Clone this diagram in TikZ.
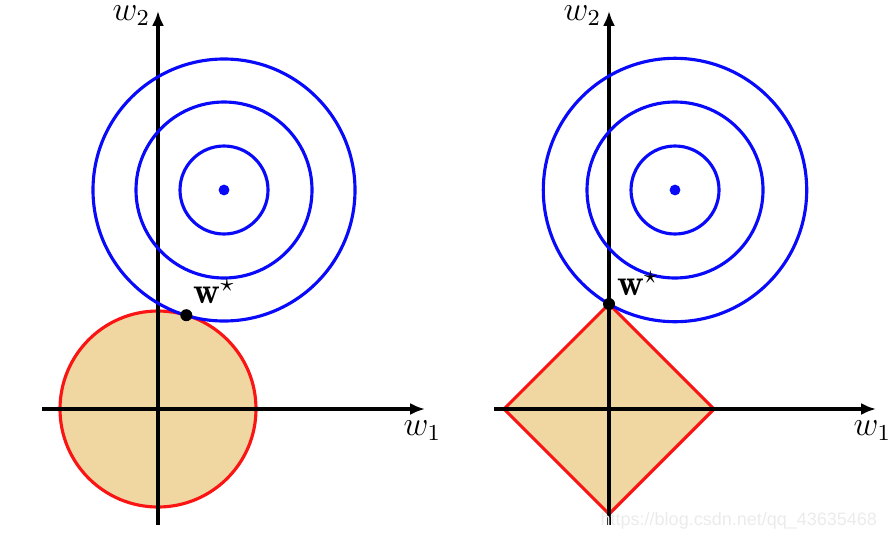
\documentclass[tikz,border=0pt]{standalone}
\usepackage{amsmath, amssymb, bm}
\usepackage{fontspec}
\newfontfamily\markfont{Liberation Sans}
\usetikzlibrary{arrows.meta, positioning}
\definecolor{ballfill}{RGB}{240, 214, 160}
\definecolor{levelblue}{RGB}{10, 10, 250}
\definecolor{ballred}{RGB}{250, 20, 20}

\begin{document}
\begin{tikzpicture}[x=0.35pt, y=-0.35pt,
    axis/.style={-{Latex[length=5.2pt, width=4.2pt]}, line width=1.1pt},
    level/.style={draw=levelblue, line width=1.1pt},
    ball/.style={draw=ballred, line width=1.1pt},
    axlabel/.style={anchor=base west, inner sep=0pt, font=\large},
    optlabel/.style={inner sep=0pt, font=\fontsize{13}{15}\selectfont},
    optdot/.style={circle, fill=black, inner sep=0pt, minimum size=4.2pt},
    ctrdot/.style={circle, fill=levelblue, inner sep=0pt, minimum size=3.8pt}]
    \useasboundingbox (0,0) rectangle (896,538);

    % left: l2 ball
    \coordinate (oL) at (158,409);
    \coordinate (cL) at (224,190);
    \fill[ballfill] (oL) circle (98);
    \draw[ball] (oL) circle (98);
    \coordinate (xaL0) at (42,409);
    \coordinate (xaL1) at (425,409);
    \coordinate (yaL0) at (158,525);
    \coordinate (yaL1) at (158,11);
    \draw[axis] (xaL0) -- (xaL1);
    \draw[axis] (yaL0) -- (yaL1);
    \node[axlabel] (w1L) at (403,435) {$w_1$};
    \node[axlabel] (w2L) at (112,20) {$w_2$};
    \foreach \r in {44, 88, 131}
        \draw[level] (cL) circle (\r);
    \node[ctrdot] (mL) at (cL) {};
    \node[optdot] (wL) at (186.3,315.2) {};
    \node[optlabel, above right=2.1pt and 0.7pt of wL] (wsL) {$\mathbf{w}^\star$};

    % right: l1 ball
    \coordinate (oR) at (609,409);
    \coordinate (cR) at (675,190);
    \node[coordinate] (dW) at (504,409) {};
    \node[coordinate] (dE) at (714,409) {};
    \node[coordinate] (dN) at (609,304) {};
    \node[coordinate] (dS) at (609,514) {};
    \fill[ballfill] (dW) -- (dN) -- (dE) -- (dS) -- cycle;
    \draw[ball] (dW) -- (dN) -- (dE) -- (dS) -- cycle;
    \coordinate (xaR0) at (494,409);
    \coordinate (xaR1) at (876,409);
    \coordinate (yaR0) at (609,525);
    \coordinate (yaR1) at (609,11);
    \draw[axis] (xaR0) -- (xaR1);
    \draw[axis] (yaR0) -- (yaR1);
    \node[axlabel] (w1R) at (853,435) {$w_1$};
    \node[axlabel] (w2R) at (563,20) {$w_2$};
    \foreach \r in {44, 88, 131.7}
        \draw[level] (cR) circle (\r);
    \node[ctrdot] (mR) at (cR) {};
    \node[optdot] (wR) at (dN) {};
    \node[optlabel, above right=1pt and 1pt of wR] (wsR) {$\mathbf{w}^\star$};

    \node[anchor=east, text=black!8, font=\markfont\fontsize{6.3}{7}\selectfont] (mark) at (887,521) {https://blog.csdn.net/qq\_43635468};
\end{tikzpicture}
\end{document}
